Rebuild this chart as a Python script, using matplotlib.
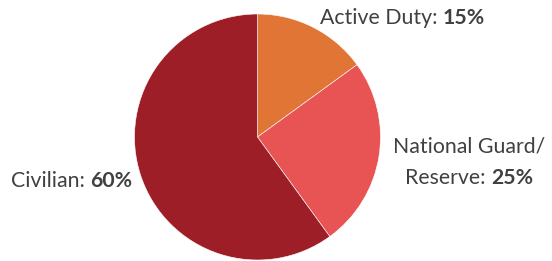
import matplotlib
matplotlib.use("Agg")
import matplotlib.pyplot as plt
from matplotlib.transforms import offset_copy

categories = ["Active Duty", "National Guard/\nReserve", "Civilian"]
values = [15, 25, 60]
colors = ["#E07535", "#E85354", "#9E1E28"]

W, H = 552, 261
fig = plt.figure(figsize=(W / 100, H / 100), dpi=100)
cx, cy, r = 257.5, 124, 123
ax = fig.add_axes([(cx - r) / W, (cy - r) / H, 2 * r / W, 2 * r / H])
ax.pie(values, colors=colors, startangle=90, counterclock=False, radius=1,
       wedgeprops=dict(edgecolor="white", linewidth=0.4))
ax.set_xlim(-1, 1)
ax.set_ylim(-1, 1)
ax.set_aspect("auto")
ax.axis("off")

FONT = "Lato"
FS = 15.3
TC = "#404040"

def two_part(x, y, plain, bold, ha="left"):
    fig.canvas.draw()
    r_ = fig.canvas.get_renderer()
    t1 = ax.text(x, y, plain, fontsize=FS, family=FONT, color=TC, va="center", ha="left")
    t2 = ax.text(x, y, bold, fontsize=FS, family=FONT, color=TC, va="center", ha="left", weight="bold")
    w1 = t1.get_window_extent(r_).width
    w2 = t2.get_window_extent(r_).width
    if ha == "left":
        off = 0
    elif ha == "right":
        off = -(w1 + w2)
    else:
        off = -(w1 + w2) / 2
    t1.set_transform(offset_copy(ax.transData, fig=fig, x=off * 72 / fig.dpi, y=0, units="points"))
    t2.set_transform(offset_copy(ax.transData, fig=fig, x=(off + w1) * 72 / fig.dpi, y=0, units="points"))

two_part(0.508, 0.967, categories[0] + ": ", f"{values[0]}%", ha="left")
ax.text(1.72, -0.081, categories[1].split("\n")[0], fontsize=FS, family=FONT, color=TC,
        va="center", ha="center")
two_part(1.72, -0.333, categories[1].split("\n")[1] + ": ", f"{values[1]}%", ha="center")
two_part(-1.02, -0.358, categories[2] + ": ", f"{values[2]}%", ha="right")

fig.savefig("out.png", dpi=100)
